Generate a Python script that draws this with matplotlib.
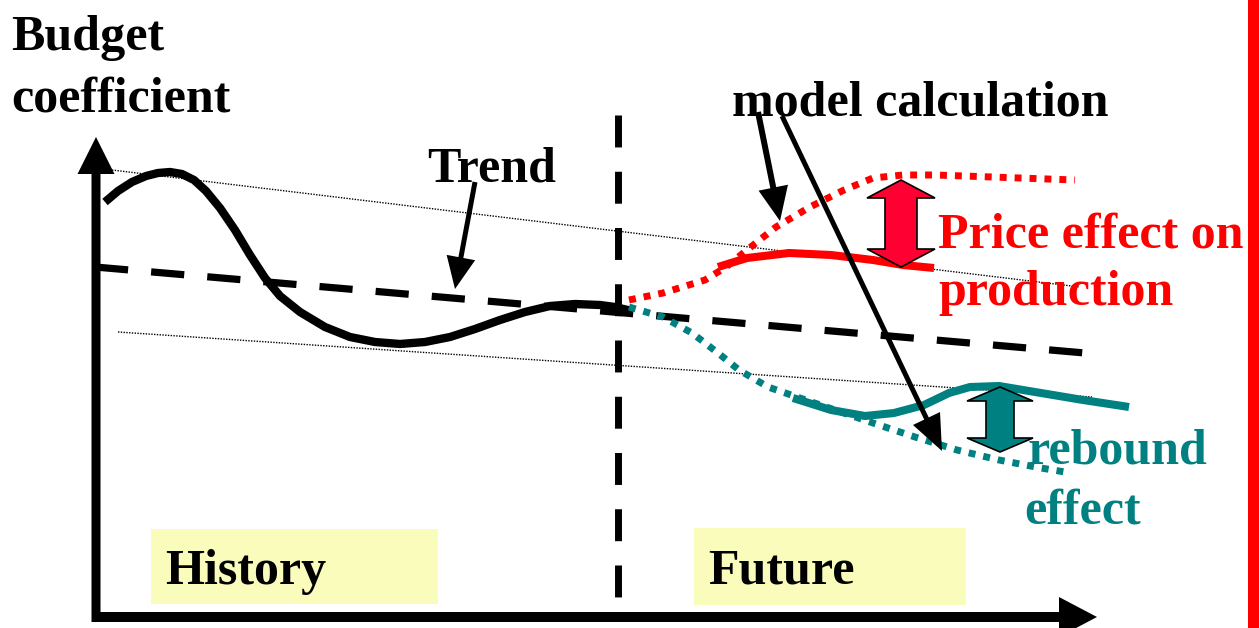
"""Sketch: budget coefficient history, trend and model calculation for the future."""

import matplotlib

matplotlib.use("Agg")
import matplotlib.pyplot as plt
from matplotlib.patches import Polygon, Rectangle

W, H = 1259, 628

# --- curves (x, y in picture units, y grows downward) ---
history_x = [105, 118, 132, 146, 158, 170, 182, 194, 206, 220, 235, 250, 265, 280,
             300, 325, 350, 375, 400, 425, 450, 475, 500, 525, 550, 575, 600, 615, 632]
history_y = [202, 191, 182, 176, 173, 172, 174, 180, 191, 208, 230, 255, 278, 296,
             312, 327, 337, 342, 344, 342, 337, 329, 320, 312, 306, 304, 305, 307, 311]

trend_x = [95, 1085]
trend_y = [267, 353]

band_upper_x = [112, 1080]
band_upper_y = [170, 287]
band_lower_x = [118, 1092]
band_lower_y = [332, 397]

price_dotted_x = [629, 663, 705, 726, 747, 776, 810, 844, 873, 903, 936, 1020, 1075]
price_dotted_y = [300, 293, 280, 267, 250, 227, 207, 190, 178, 175, 175, 178, 180]
price_solid_x = [718, 747, 789, 831, 873, 903, 934]
price_solid_y = [267, 258, 253, 255, 260, 265, 268]

rebound_dotted_x = [629, 663, 692, 718, 739, 768, 797, 835, 873, 915, 957, 999, 1041, 1071]
rebound_dotted_y = [307, 317, 333, 353, 370, 387, 397, 410, 423, 437, 450, 460, 468, 473]
rebound_solid_x = [793, 831, 865, 894, 924, 949, 970, 999, 1041, 1083, 1129]
rebound_solid_y = [398, 410, 416, 413, 405, 393, 387, 386, 393, 400, 407]

divider_x = 618
divider_y = [115, 599]

RED = "#ff0000"
ARROW_RED = "#ff0033"
TEAL = "#008080"
YELLOW = "#fafcbb"
FONT = ["Liberation Serif", "DejaVu Serif"]


def double_arrow(ax, xc, y_top, y_bot, head_w, shaft_w, head_len, color):
    hw, sw = head_w / 2, shaft_w / 2
    pts = [
        (xc, y_top), (xc + hw, y_top + head_len), (xc + sw, y_top + head_len),
        (xc + sw, y_bot - head_len), (xc + hw, y_bot - head_len), (xc, y_bot),
        (xc - hw, y_bot - head_len), (xc - sw, y_bot - head_len),
        (xc - sw, y_top + head_len), (xc - hw, y_top + head_len),
    ]
    ax.add_patch(Polygon(pts, closed=True, facecolor=color, edgecolor="black",
                         linewidth=1.2, zorder=6))


def arrow(ax, x0, y0, x1, y1, width, head_w, head_len, z=7):
    ax.arrow(x0, y0, x1 - x0, y1 - y0, width=width, head_width=head_w,
             head_length=head_len, length_includes_head=True,
             facecolor="black", edgecolor="black", linewidth=0, zorder=z)


fig = plt.figure(figsize=(W / 100, H / 100), dpi=100)
ax = fig.add_axes([0, 0, 1, 1])
ax.set_xlim(0, W)
ax.set_ylim(H, 0)
ax.axis("off")

# red edge bar on the right
ax.add_patch(Rectangle((1248, 0), 11, H, facecolor=RED, edgecolor="none", zorder=1))

# period boxes
ax.add_patch(Rectangle((151, 529), 287, 75, facecolor=YELLOW, edgecolor="none", zorder=1))
ax.add_patch(Rectangle((694, 528), 272, 77, facecolor=YELLOW, edgecolor="none", zorder=1))

# thin dotted corridor
ax.plot(band_upper_x, band_upper_y, color="black", lw=1.0, ls=(0, (1, 1)), zorder=2)
ax.plot(band_lower_x, band_lower_y, color="black", lw=1.0, ls=(0, (1, 1)), zorder=2)

# trend and divider
ax.plot(trend_x, trend_y, color="black", lw=5.2, ls=(0, (4.6, 3.2)),
        solid_capstyle="butt", dash_capstyle="butt", zorder=3)
ax.plot([divider_x, divider_x], divider_y, color="black", lw=5.0, ls=(0, (4.6, 3.5)),
        dash_capstyle="butt", zorder=3)

# history
ax.plot(history_x, history_y, color="black", lw=6, solid_capstyle="butt",
        solid_joinstyle="round", zorder=4)

# scenarios
ax.plot(price_dotted_x, price_dotted_y, color=RED, lw=5, ls=(0, (1, 1.15)),
        dash_capstyle="butt", zorder=4)
ax.plot(price_solid_x, price_solid_y, color=RED, lw=5.8, solid_capstyle="butt",
        solid_joinstyle="round", zorder=4)
ax.plot(rebound_dotted_x, rebound_dotted_y, color=TEAL, lw=5, ls=(0, (1, 1.15)),
        dash_capstyle="butt", zorder=4)
ax.plot(rebound_solid_x, rebound_solid_y, color=TEAL, lw=5.8, solid_capstyle="butt",
        solid_joinstyle="round", zorder=4)

# effect arrows
double_arrow(ax, 901, 180, 267, 68, 32, 18, ARROW_RED)
double_arrow(ax, 1000, 387, 452, 66, 28, 14, TEAL)

# axes
arrow(ax, 96, 622, 96, 137, 9, 37, 37, z=5)
arrow(ax, 92, 617, 1097, 617, 10, 40, 38, z=5)

# pointers
arrow(ax, 475, 182, 455, 289, 5, 29, 32)
arrow(ax, 758, 112, 780, 221, 6, 30, 34)
arrow(ax, 782, 116, 942, 451, 5, 30, 36)

# labels
txt = dict(fontsize=36, fontweight="bold", family=FONT, va="baseline", ha="left", zorder=8)
ax.text(11, 50, "Budget", color="black", **txt)
ax.text(11, 111, "coefficient", color="black", **txt)
ax.text(427, 182, "Trend", color="black", **txt)
ax.text(732, 115, "model calculation", color="black", **txt)
ax.text(938, 247, "Price effect on", color=RED, **txt)
ax.text(938, 305, "production", color=RED, **txt)
ax.text(1028, 464, "rebound", color=TEAL, **txt)
ax.text(1024, 524, "effect", color=TEAL, **txt)
ax.text(165, 584, "History", color="black", **txt)
ax.text(708, 584, "Future", color="black", **txt)

fig.savefig("out.png", dpi=100)
